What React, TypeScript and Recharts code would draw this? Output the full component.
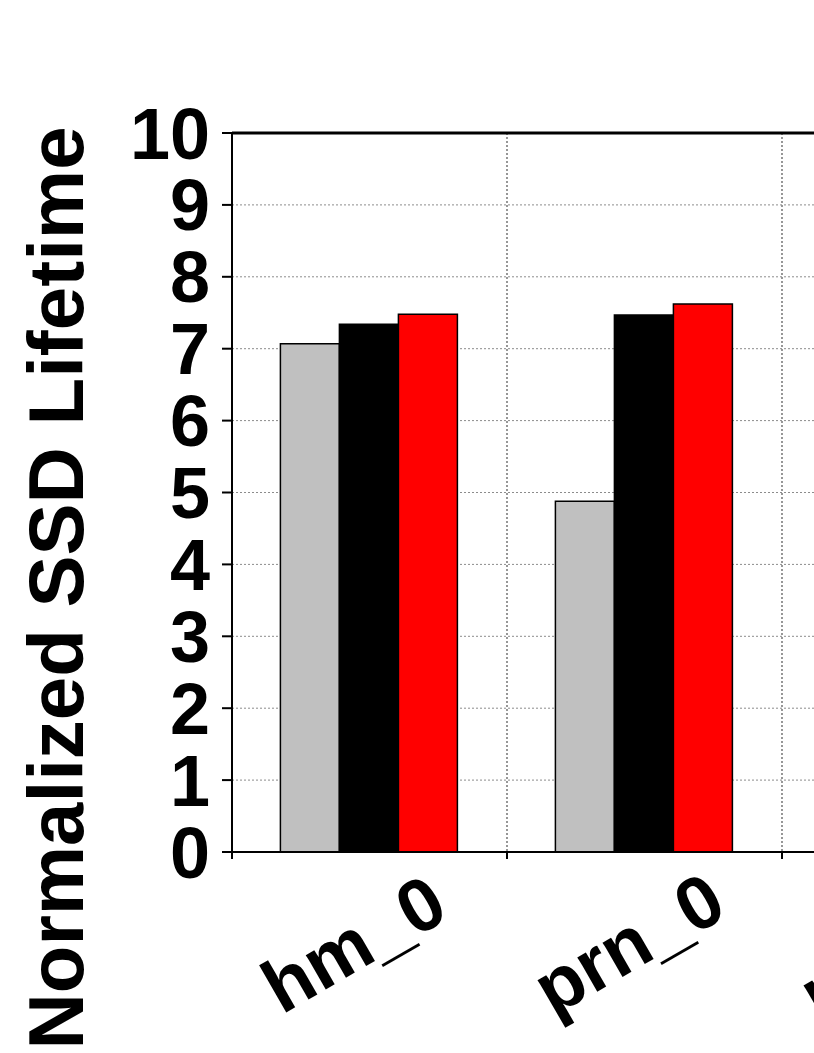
import React from 'react';
import { BarChart, Bar, XAxis, YAxis, CartesianGrid, ReferenceLine } from 'recharts';

const categories = ['hm_0', 'prn_0', 'proj_0'];
const seriesA = [7.07, 4.88, 7.2];
const seriesB = [7.34, 7.47, 7.5];
const seriesC = [7.48, 7.62, 7.65];
const yTicks = [0, 1, 2, 3, 4, 5, 6, 7, 8, 9, 10];
const yTitle = 'Normalized SSD Lifetime';

const FONT = '"Liberation Sans", Arial, sans-serif';

const data = categories.map((name, i) => ({
  name,
  a: seriesA[i],
  b: seriesB[i],
  c: seriesC[i],
}));

// category label plus the short tick marks at the category boundaries
const BottomTick = (props: any) => {
  const { x, y, payload, width } = props;
  const half = payload && payload.offset ? payload.offset : width / categories.length / 2;
  const tx = x - 3;
  const ty = y + 114;
  const left = x - half;
  const right = x + half;
  return (
    <g>
      <line x1={left} x2={left} y1={y} y2={y + 7} stroke="#000" strokeWidth={2} />
      <line x1={right} x2={right} y1={y} y2={y + 7} stroke="#000" strokeWidth={2} />
      <text
        x={tx}
        y={ty}
        textAnchor="middle"
        transform={`rotate(-30, ${tx}, ${ty})`}
        fontSize={75}
        fontWeight="bold"
        fontFamily={FONT}
        fill="#000"
      >
        {payload.value}
      </text>
    </g>
  );
};

const AxisTitle = (props: any) => {
  const vb = props.viewBox || { x: 0, y: 133 };
  const x = vb.x + 83;
  const y = vb.y + 455;
  return (
    <text
      x={x}
      y={y}
      textAnchor="middle"
      transform={`rotate(-90, ${x}, ${y})`}
      fontSize={78}
      fontWeight="bold"
      fontFamily={FONT}
      fill="#000"
    >
      {yTitle}
    </text>
  );
};

// vertical grid at the boundaries between categories
const boundaryLines = ({ offset }: any) => {
  if (!offset) return [];
  const step = offset.width / categories.length;
  return categories.slice(1).map((_, i) => offset.left + step * (i + 1));
};

const App = () => {
  return (
    <div style={{ position: 'absolute', left: 0, top: 0, width: 814, height: 1053, overflow: 'hidden', background: '#fff' }}>
      <BarChart
        width={1100}
        height={1053}
        data={data}
        margin={{ top: 133, right: 43, left: 0, bottom: 0 }}
        barCategoryGap="17.6%"
        barGap={0}
      >
        <CartesianGrid vertical={false} stroke="#8c8c8c" strokeDasharray="2 2" />
        <CartesianGrid
          horizontal={false}
          stroke="#8c8c8c"
          strokeWidth={1.8}
          strokeDasharray="2 2"
          verticalCoordinatesGenerator={boundaryLines}
        />
        <XAxis
          dataKey="name"
          interval={0}
          height={201}
          tickSize={0}
          tickMargin={0}
          tickLine={false}
          axisLine={{ stroke: '#000', strokeWidth: 2 }}
          tick={<BottomTick />}
        />
        <YAxis
          domain={[0, 10]}
          ticks={yTicks}
          interval={0}
          width={232}
          tickSize={10}
          tickMargin={12}
          axisLine={{ stroke: '#000', strokeWidth: 2 }}
          tickLine={{ stroke: '#000', strokeWidth: 2 }}
          tick={{ fontSize: 72, fontWeight: 'bold', fill: '#000', fontFamily: FONT }}
          label={<AxisTitle />}
        />
        <ReferenceLine y={10} stroke="#000" strokeWidth={3} />
        <Bar dataKey="a" fill="#c0c0c0" stroke="#000" strokeWidth={1.5} isAnimationActive={false} />
        <Bar dataKey="b" fill="#000000" stroke="#000" strokeWidth={1.5} isAnimationActive={false} />
        <Bar dataKey="c" fill="#ff0000" stroke="#000" strokeWidth={1.5} isAnimationActive={false} />
      </BarChart>
    </div>
  );
};

export default App;
